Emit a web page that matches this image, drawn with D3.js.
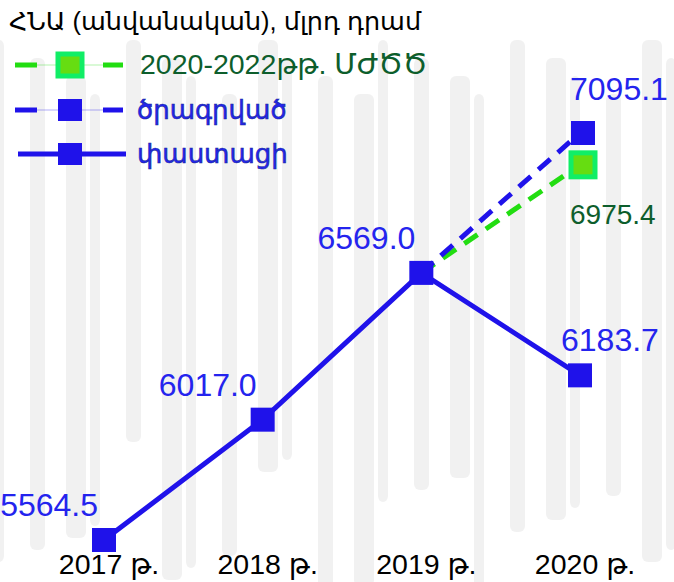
<!DOCTYPE html>
<html>
<head>
<meta charset="utf-8">
<script src="https://cdn.jsdelivr.net/npm/d3@7"></script>
<style>
  body { margin: 0; background: #fff; }
  svg { display: block; font-family: "Liberation Sans", Arial, "DejaVu Sans", sans-serif; }
</style>
</head>
<body>
<svg id="chart" width="674" height="582"></svg>
<script>
const years = ["2017 թ.", "2018 թ.", "2019 թ.", "2020 թ."];
const actual = [5564.5, 6017.0, 6569.0, 6183.7];
const planned = [null, null, 6569.0, 7095.1];
const mtef = [null, null, 6569.0, 6975.4];

const titleText = "ՀՆԱ (անվանական), մլրդ դրամ";
const legendNames = ["2020-2022թթ. ՄԺԾԾ", "ծրագրված", "փաստացի"];

const svg = d3.select("#chart");
const W = +svg.attr("width");
const H = +svg.attr("height");

const blue = "#1f12ea";
const labelBlue = "#2424ee";
const green = "#22dd11";
const darkGreen = "#0d5e2c";

// faint textured background
const bg = svg.append("g").attr("fill", "#e2e2e2").attr("opacity", 0.45);
bg.selectAll("rect")
  .data(d3.range(0, 22))
  .join("rect")
  .attr("x", i => i * 32 - 6 + (i % 3) * 4)
  .attr("y", i => 40 + (i % 4) * 18)
  .attr("width", i => 10 + (i % 3) * 5)
  .attr("height", i => H - 60 - (i % 5) * 30)
  .attr("rx", 6);

const x = d3.scalePoint().domain(years).range([104, 580]);
const y = d3.scaleLinear().domain([5564.5, 7095.1]).range([540, 133]);

// category labels
svg.append("g")
  .selectAll("text")
  .data(years)
  .join("text")
  .attr("x", d => x(d) + 5)
  .attr("y", 574)
  .attr("text-anchor", "middle")
  .attr("font-size", 28.5)
  .attr("fill", "#000")
  .text(d => d);

const line = d3.line()
  .defined(d => d.v != null)
  .x(d => x(d.k))
  .y(d => y(d.v));

const toPts = arr => years.map((k, i) => ({ k, v: arr[i] }));

// mtef dashed
svg.append("path")
  .datum(toPts(mtef))
  .attr("fill", "none")
  .attr("stroke", green)
  .attr("stroke-width", 5)
  .attr("stroke-dasharray", "16,10")
  .attr("d", line);

// planned dashed
svg.append("path")
  .datum(toPts(planned))
  .attr("fill", "none")
  .attr("stroke", blue)
  .attr("stroke-width", 5)
  .attr("stroke-dasharray", "16,10")
  .attr("d", line);

// actual solid
svg.append("path")
  .datum(toPts(actual))
  .attr("fill", "none")
  .attr("stroke", blue)
  .attr("stroke-width", 5)
  .attr("d", line);

const S = 24;
svg.append("g")
  .selectAll("rect")
  .data(toPts(actual))
  .join("rect")
  .attr("x", d => x(d.k) - S / 2)
  .attr("y", d => y(d.v) - S / 2)
  .attr("width", S)
  .attr("height", S)
  .attr("fill", blue);

const last = years.length - 1;
// planned marker
svg.append("rect")
  .attr("x", x(years[last]) + 3 - S / 2)
  .attr("y", y(planned[last]) - S / 2)
  .attr("width", S).attr("height", S)
  .attr("fill", blue);

// mtef marker
svg.append("rect")
  .attr("x", x(years[last]) + 3 - S / 2)
  .attr("y", y(mtef[last]) - S / 2)
  .attr("width", S).attr("height", S)
  .attr("fill", "#66dd11")
  .attr("stroke", "#11ee66")
  .attr("stroke-width", 5);

// value labels for actual
const lab = svg.append("g").attr("font-size", 32).attr("fill", labelBlue);
lab.selectAll("text")
  .data(toPts(actual))
  .join("text")
  .attr("x", (d, i) => i < last ? x(d.k) - 6 : x(d.k) - 19)
  .attr("y", (d, i) => y(d.v) - 24)
  .attr("text-anchor", (d, i) => i < last ? "end" : "start")
  .text(d => d.v.toFixed(1));

lab.append("text")
  .attr("x", x(years[last]) - 10)
  .attr("y", y(planned[last]) - 33)
  .text(planned[last].toFixed(1));

svg.append("text")
  .attr("x", x(years[last]) - 10)
  .attr("y", y(mtef[last]) + 59)
  .attr("font-size", 28)
  .attr("fill", darkGreen)
  .text(mtef[last].toFixed(1));

// title
svg.append("text")
  .attr("x", 9)
  .attr("y", 30)
  .attr("font-size", 25.5)
  .attr("fill", "#000")
  .text(titleText);

// legend
const lg = svg.append("g");
const rows = [
  { y: 65, color: green, dash: true, text: legendNames[0], tcolor: darkGreen, mfill: "#66dd11", mstroke: "#11ee66", outline: false, fs: 28.5 },
  { y: 110, color: blue, dash: true, text: legendNames[1], tcolor: labelBlue, mfill: blue, mstroke: null, outline: true, fs: 26 },
  { y: 154, color: blue, dash: false, text: legendNames[2], tcolor: labelBlue, mfill: blue, mstroke: null, outline: true, fs: 26 }
];
rows.forEach(r => {
  if (r.dash) {
    lg.append("line").attr("x1", 15).attr("x2", 122).attr("y1", r.y).attr("y2", r.y)
      .attr("stroke", r.color).attr("stroke-opacity", 0.35).attr("stroke-width", 1);
    [[15, 37], [103, 123]].forEach(([a, b]) => {
      lg.append("line").attr("x1", a).attr("x2", b).attr("y1", r.y).attr("y2", r.y)
        .attr("stroke", r.color).attr("stroke-width", 5);
    });
  } else {
    lg.append("line").attr("x1", 18).attr("x2", 126).attr("y1", r.y).attr("y2", r.y)
      .attr("stroke", r.color).attr("stroke-width", 5);
  }
  lg.append("rect").attr("x", 58).attr("y", r.y - 11).attr("width", 24).attr("height", 22)
    .attr("fill", r.mfill)
    .attr("stroke", r.mstroke || "none").attr("stroke-width", 5);
  lg.append("text").attr("x", r.outline ? 137 : 140).attr("y", r.y + 9)
    .attr("font-size", r.fs).attr("fill", r.tcolor)
    .attr("stroke", r.outline ? "#1a2a9a" : "none")
    .attr("stroke-width", r.outline ? 0.6 : 0)
    .text(r.text);
});
</script>
</body>
</html>
